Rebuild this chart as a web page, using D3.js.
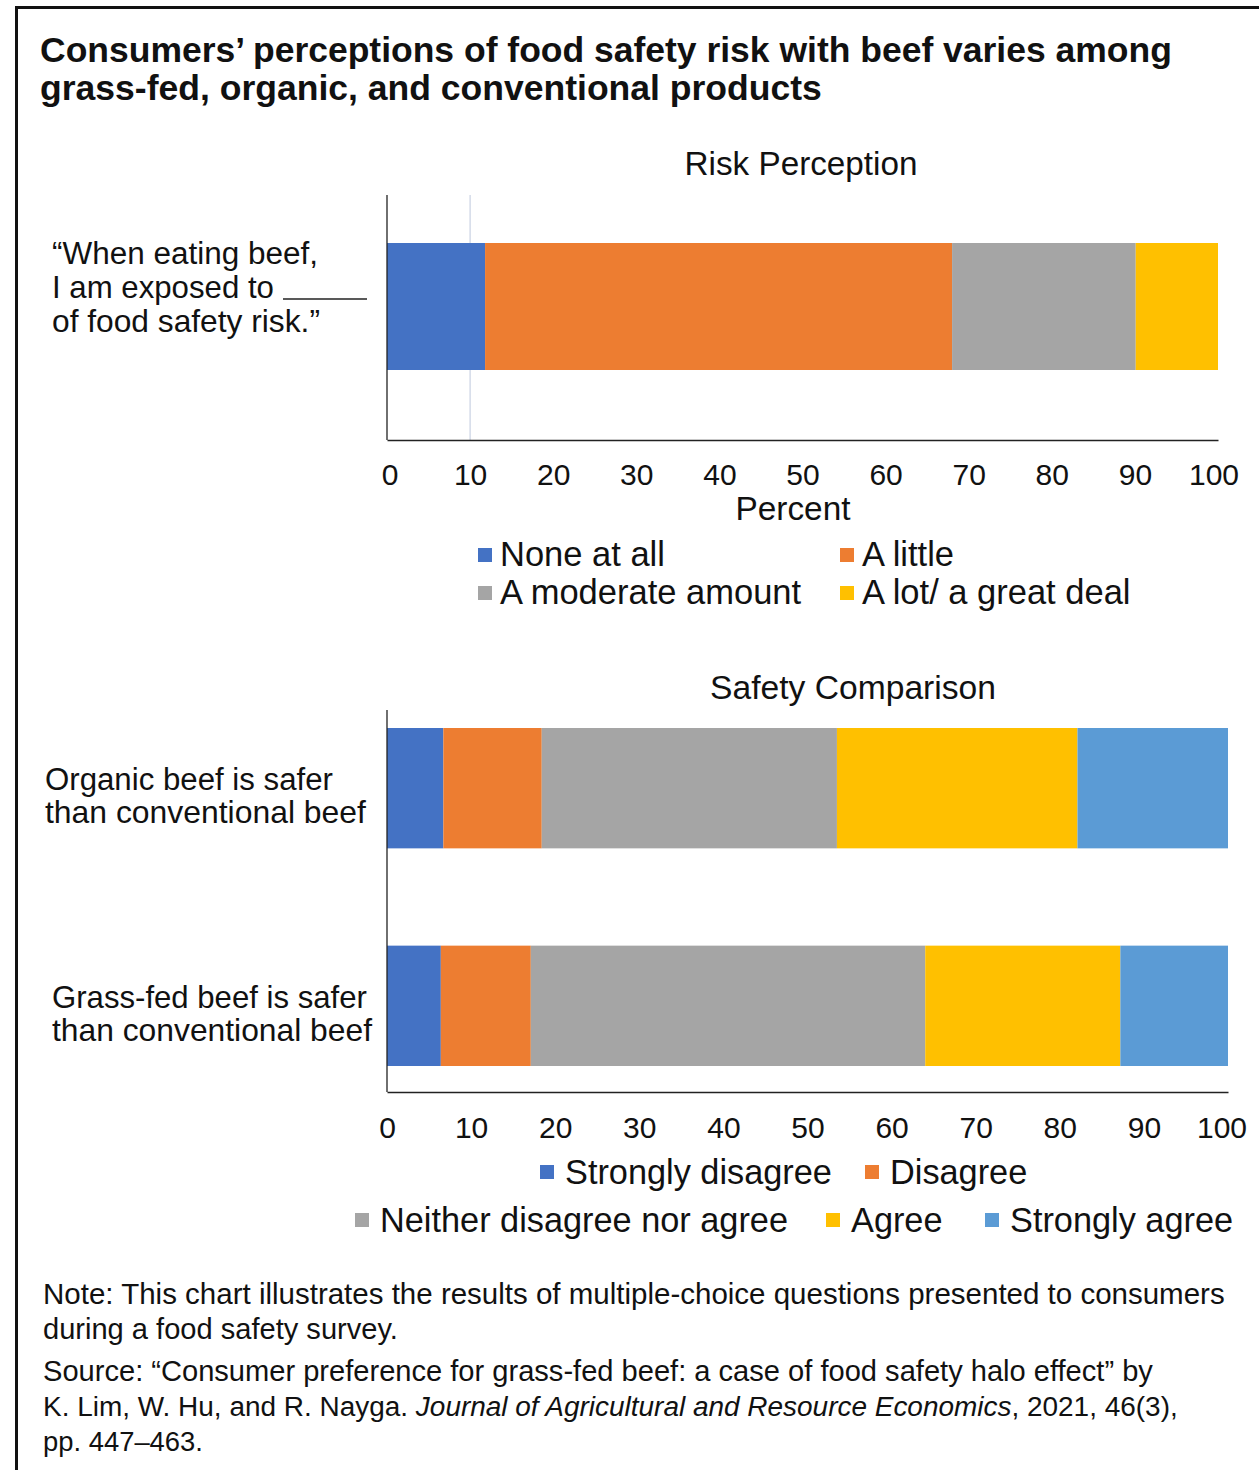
<!DOCTYPE html>
<html>
<head>
<meta charset="utf-8">
<script src="https://cdn.jsdelivr.net/npm/d3@7"></script>
<style>
  html, body { margin: 0; padding: 0; background: #fff; }
  svg { display: block; }
  text { font-family: "Liberation Sans", Arial, sans-serif; fill: #111; }
</style>
</head>
<body>
<svg id="chart" width="1259" height="1470"></svg>
<script>
// ---------------- DATA ----------------
const riskQuestion = ["When eating beef"];
const riskCategories = ["None at all", "A little", "A moderate amount", "A lot/ a great deal"];
const riskValues = [11.8, 56.2, 22.1, 9.9];

const safetyStatements = ["Organic", "Grass-fed"];
const safetyCategories = ["Strongly disagree", "Disagree", "Neither disagree nor agree", "Agree", "Strongly agree"];
const organicValues = [6.7, 11.7, 35.1, 28.6, 17.9];
const grassfedValues = [6.4, 10.7, 46.9, 23.2, 12.8];

const tickValues = [0, 10, 20, 30, 40, 50, 60, 70, 80, 90, 100];

const riskColors = ["#4472C4", "#ED7D31", "#A5A5A5", "#FFC000"];
const safetyColors = ["#4472C4", "#ED7D31", "#A5A5A5", "#FFC000", "#5B9BD5"];

// ---------------- HELPERS ----------------
const svg = d3.select("#chart");

function fit(sel, target) {
  const node = sel.node();
  const w = node.getComputedTextLength();
  const fs = parseFloat(sel.attr("font-size"));
  sel.attr("font-size", (fs * target / w).toFixed(2));
  return sel;
}
function txt(x, y, s, size, opts = {}) {
  const t = svg.append("text").attr("x", x).attr("y", y).attr("font-size", size).text(s);
  if (opts.weight) t.attr("font-weight", opts.weight);
  if (opts.anchor) t.attr("text-anchor", opts.anchor);
  if (opts.fit) fit(t, opts.fit);
  return t;
}

// ---------------- FRAME ----------------
svg.append("line").attr("x1", 15).attr("x2", 1259).attr("y1", 7.5).attr("y2", 7.5)
  .attr("stroke", "#111").attr("stroke-width", 3);
svg.append("line").attr("x1", 16.5).attr("x2", 16.5).attr("y1", 6).attr("y2", 1470)
  .attr("stroke", "#111").attr("stroke-width", 3);

// ---------------- TITLE ----------------
txt(40, 62, "Consumers\u2019 perceptions of food safety risk with beef varies among", 31, { weight: "bold", fit: 1132 });
txt(40, 100, "grass-fed, organic, and conventional products", 31, { weight: "bold", fit: 782 });

// ---------------- TOP CHART ----------------
const x1 = d3.scaleLinear().domain([0, 100]).range([387, 1218]);
const y1 = d3.scaleBand().domain(riskQuestion).range([243, 370]).padding(0);

txt(801, 175, "Risk Perception", 30, { anchor: "middle", fit: 233 });

// faint gridline at 10
svg.append("line").attr("x1", x1(10)).attr("x2", x1(10)).attr("y1", 195).attr("y2", 440)
  .attr("stroke", "#c9d2e3").attr("stroke-width", 1.2);

const riskCum = d3.cumsum(riskValues);
svg.append("g").selectAll("rect").data(riskValues).join("rect")
  .attr("x", (d, i) => x1(riskCum[i] - d))
  .attr("width", (d, i) => x1(riskCum[i]) - x1(riskCum[i] - d))
  .attr("y", y1(riskQuestion[0]))
  .attr("height", y1.bandwidth())
  .attr("fill", (d, i) => riskColors[i]);

// y axis line
svg.append("line").attr("x1", 387).attr("x2", 387).attr("y1", 195).attr("y2", 440)
  .attr("stroke", "#222").attr("stroke-width", 1.3);

const ax1 = svg.append("g").attr("transform", "translate(0,440)")
  .call(d3.axisBottom(x1).tickValues(tickValues).tickSize(0).tickSizeOuter(0).tickPadding(24));
ax1.select(".domain").attr("stroke", "#222").attr("stroke-width", 1.3);
ax1.selectAll("text").attr("font-size", 30).attr("font-family", "Liberation Sans, Arial, sans-serif").attr("fill", "#111");
ax1.selectAll(".tick").filter(d => d === 0).attr("transform", `translate(${x1(0) + 3},0)`);
ax1.selectAll(".tick").filter(d => d === 100).attr("transform", `translate(${x1(100) - 4},0)`);

txt(793, 520, "Percent", 29, { anchor: "middle", fit: 115 });

// left label for top chart
txt(52, 264, "\u201CWhen eating beef,", 28, { fit: 266 });
txt(52, 298, "I am exposed to", 28, { fit: 222 });
svg.append("line").attr("x1", 283).attr("x2", 367).attr("y1", 299).attr("y2", 299)
  .attr("stroke", "#222").attr("stroke-width", 1.3);
txt(52, 332, "of food safety risk.\u201D", 28, { fit: 268 });

// top legend
const topLegendPos = [[478, 555], [840, 555], [478, 593], [840, 593]];
riskCategories.forEach((c, i) => {
  const [lx, ly] = topLegendPos[i];
  svg.append("rect").attr("x", lx).attr("y", ly - 7).attr("width", 14).attr("height", 14).attr("fill", riskColors[i]);
  txt(lx + 22, ly + 11, c, 34.5);
});

// ---------------- BOTTOM CHART ----------------
const x2 = d3.scaleLinear().domain([0, 100]).range([387, 1228]);
const y2 = d3.scaleBand().domain(safetyStatements).range([728, 1066]).paddingInner(0.447).paddingOuter(0);

txt(853, 699, "Safety Comparison", 30, { anchor: "middle", fit: 286 });

const safetyRows = safetyStatements.map((s, i) => {
  const vals = i === 0 ? organicValues : grassfedValues;
  const row = { statement: s };
  safetyCategories.forEach((c, j) => row[c] = vals[j]);
  return row;
});
const stacked = d3.stack().keys(safetyCategories)(safetyRows);

svg.append("g").selectAll("g").data(stacked).join("g")
  .attr("fill", (d, i) => safetyColors[i])
  .selectAll("rect").data(d => d).join("rect")
  .attr("x", d => x2(d[0]))
  .attr("width", d => x2(d[1]) - x2(d[0]))
  .attr("y", d => y2(d.data.statement))
  .attr("height", y2.bandwidth());

svg.append("line").attr("x1", 387).attr("x2", 387).attr("y1", 710).attr("y2", 1092)
  .attr("stroke", "#222").attr("stroke-width", 1.3);

const ax2 = svg.append("g").attr("transform", "translate(0,1092)")
  .call(d3.axisBottom(x2).tickValues(tickValues).tickSize(0).tickSizeOuter(0).tickPadding(25));
ax2.select(".domain").attr("stroke", "#222").attr("stroke-width", 1.3);
ax2.selectAll("text").attr("font-size", 30).attr("font-family", "Liberation Sans, Arial, sans-serif").attr("fill", "#111");
ax2.selectAll(".tick").filter(d => d === 100).attr("transform", `translate(${x2(100) - 6},0)`);

txt(45, 790, "Organic beef is safer", 30, { fit: 288 });
txt(45, 823, "than conventional beef", 30, { fit: 321 });
txt(52, 1008, "Grass-fed beef is safer", 30, { fit: 315 });
txt(52, 1041, "than conventional beef", 30, { fit: 320 });

const botLegendPos = [[540, 1172], [865, 1172], [355, 1220], [826, 1220], [985, 1220]];
safetyCategories.forEach((c, i) => {
  const [lx, ly] = botLegendPos[i];
  svg.append("rect").attr("x", lx).attr("y", ly - 7).attr("width", 14).attr("height", 14).attr("fill", safetyColors[i]);
  txt(lx + 25, ly + 12, c, 34.3);
});

// ---------------- NOTES ----------------
txt(43, 1304, "Note: This chart illustrates the results of multiple-choice questions presented to consumers", 25, { fit: 1182 });
txt(43, 1339, "during a food safety survey.", 25, { fit: 355 });
txt(43, 1381, "Source: \u201CConsumer preference for grass-fed beef: a case of food safety halo effect\u201D by", 25, { fit: 1110 });
const src2 = svg.append("text").attr("x", 43).attr("y", 1416).attr("font-size", 25);
src2.append("tspan").text("K. Lim, W. Hu, and R. Nayga. ");
src2.append("tspan").attr("font-style", "italic").text("Journal of Agricultural and Resource Economics");
src2.append("tspan").text(", 2021, 46(3),");
fit(src2, 1135);
txt(43, 1451, "pp. 447\u2013463.", 25, { fit: 160 });
</script>
</body>
</html>
